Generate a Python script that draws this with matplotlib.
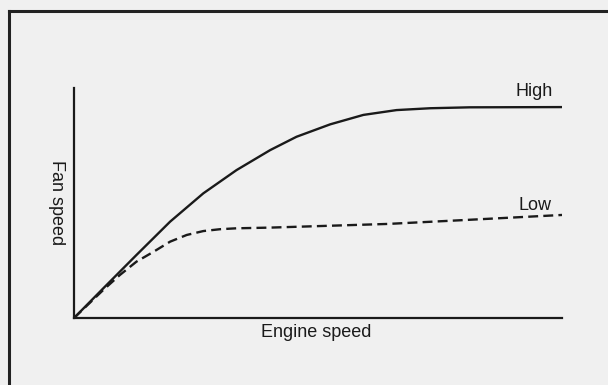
import matplotlib.pyplot as plt
from matplotlib.lines import Line2D

# fan speed vs engine speed, both in percent of full scale
high_x = [0, 6.0, 12.8, 19.7, 26.5, 33.3, 40.2, 45.6, 52.5, 59.3, 66.1, 73.0, 81.1, 100]
high_y = [0, 12.9, 27.4, 41.9, 54.2, 64.3, 73.0, 78.8, 84.2, 88.3, 90.4, 91.2, 91.6, 91.7]

low_x = [0, 6.0, 9.4, 12.8, 16.3, 19.7, 23.1, 26.5, 29.9, 33.3, 40.2, 64.3, 80.1, 100]
low_y = [0, 12.2, 18.7, 24.5, 28.8, 33.2, 36.1, 37.8, 38.6, 39.0, 39.3, 40.9, 42.6, 44.8]

x_label = "Engine speed"
y_label = "Fan speed"
curve_labels = ["High", "Low"]

INK = '#1a1a1a'
BG = '#f0f0f0'

fig = plt.figure(figsize=(6.08, 3.85), dpi=100, facecolor=BG)
ax = fig.add_axes([74 / 608, 67 / 385, 488 / 608, 230 / 385])
ax.set_facecolor('none')

ax.plot(high_x, high_y, color=INK, lw=1.7, solid_joinstyle='round')
ax.plot(low_x, low_y, color=INK, lw=1.7, dashes=(4.2, 2.2))

ax.set_xlim(0, 100)
ax.set_ylim(0, 100)
ax.set_xticks([])
ax.set_yticks([])
for side in ['top', 'right']:
    ax.spines[side].set_visible(False)
for side in ['left', 'bottom']:
    ax.spines[side].set_linewidth(1.6)
    ax.spines[side].set_color(INK)

font = dict(family='Liberation Sans', fontsize=13, color=INK)
ax.text(90.4, 98.3, curve_labels[0], ha='left', va='center', **font)
ax.text(91.0, 49.1, curve_labels[1], ha='left', va='center', **font)
ax.text(49.6, -6.5, x_label, ha='center', va='center', **font)
ax.text(-3.5, 50, y_label, ha='center', va='center', rotation=270, **font)

# outer frame, open on the right and bottom
fig.add_artist(Line2D([9 / 608, 9 / 608], [0, 1 - 11 / 385], color='#222222', lw=2.2,
                      transform=fig.transFigure))
fig.add_artist(Line2D([9 / 608, 1], [1 - 11 / 385, 1 - 11 / 385], color='#222222', lw=2.2,
                      transform=fig.transFigure))

fig.savefig('out.png', dpi=100, facecolor=BG)
